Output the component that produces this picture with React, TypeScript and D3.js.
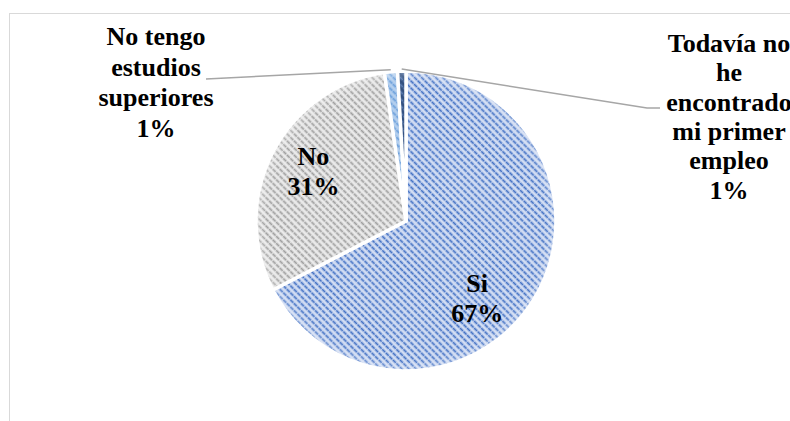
import React from "react";
import * as d3 from "d3";

// ---- data ----
const categories = ["Si", "No", "No tengo estudios superiores", "Todavía no he encontrado mi primer empleo"];
const values = [67.4, 30.3, 1.4, 0.9];
const percentLabels = ["67%", "31%", "1%", "1%"];
const labelLines = [
  ["Si"],
  ["No"],
  ["No tengo", "estudios", "superiores"],
  ["Todavía no", "he", "encontrado", "mi primer", "empleo"],
];

// ---- layout / style ----
const W = 790;
const H = 421;
const CX = 406;
const CY = 221;
const R = 150;
const FONT = "Liberation Serif, Times New Roman, DejaVu Serif, serif";
const FS = 26;

const fills = [
  { bg: "#d2ddf3", fg: "#4472c4" },
  { bg: "#eaeaea", fg: "#9f9f9f" },
  { bg: "#b4cfee", fg: "#6b9fdb" },
  { bg: "#33507f", fg: "#5f7fb3" },
];

// inside labels: centroid radius and angle shift (degrees)
const insideLabel: Record<number, { r: number; shift: number }> = {
  0: { r: 105, shift: 16 },
  1: { r: 105, shift: 1 },
};
// outside labels: anchor (center x, first baseline), line height, leader path
const outsideLabel: Record<number, { x: number; y: number; lh: number; leader: [number, number][] }> = {
  2: { x: 156, y: 45, lh: 30.5, leader: [[206, 79]] },
  3: { x: 729, y: 52, lh: 29.3, leader: [[647, 108], [660, 108]] },
};

export default function App() {
  const pie = d3
    .pie<number>()
    .sort(null)
    .startAngle(0)
    .endAngle(2 * Math.PI)
    .value((d) => d);
  const arcs = pie(values);
  const arc = d3.arc<d3.PieArcDatum<number>>().innerRadius(0).outerRadius(R);

  const polar = (a: number, r: number): [number, number] => [
    CX + r * Math.sin(a),
    CY - r * Math.cos(a),
  ];

  return (
    <svg
      width={W}
      height={H}
      style={{ position: "absolute", left: 0, top: 0, background: "#fff" }}
    >
      <defs>
        {fills.map((f, i) => (
          <pattern
            key={i}
            id={`pat${i}`}
            patternUnits="userSpaceOnUse"
            width={5}
            height={5}
            patternTransform="rotate(-45)"
          >
            <rect width={5} height={5} fill={f.bg} />
            <line x1={2.5} y1={0} x2={2.5} y2={5} stroke={f.fg} strokeWidth={1.8} strokeDasharray="3.2 0.8" />
          </pattern>
        ))}
        <radialGradient id="soft" cx={CX} cy={CY} r={R} gradientUnits="userSpaceOnUse">
          <stop offset="0.93" stopColor="#fff" stopOpacity={0} />
          <stop offset="1" stopColor="#fff" stopOpacity={0.3} />
        </radialGradient>
      </defs>

      <rect x={9.5} y={13.5} width={900} height={500} fill="#fff" stroke="#d9d9d9" strokeWidth={1} />

      <g transform={`translate(${CX},${CY})`}>
        {arcs.map((a, i) => (
          <path key={i} d={arc(a) || ""} fill={`url(#pat${i})`} stroke="#fff" strokeWidth={3.5} strokeLinejoin="round" />
        ))}
      </g>
      <circle cx={CX} cy={CY} r={R} fill="url(#soft)" />

      {/* leader lines */}
      {arcs.map((a, i) => {
        const o = outsideLabel[i];
        if (!o) return null;
        const mid = (a.startAngle + a.endAngle) / 2;
        const p0 = polar(mid, R + 2);
        const pts: [number, number][] = [p0, ...o.leader];
        return (
          <polyline
            key={"l" + i}
            points={pts.map((p) => p.join(",")).join(" ")}
            fill="none"
            stroke="#a6a6a6"
            strokeWidth={1.5}
          />
        );
      })}

      {/* labels */}
      <g style={{ fontFamily: FONT, fontWeight: "bold", fontSize: FS }} fill="#000" textAnchor="middle">
        {arcs.map((a, i) => {
          const lines = [...labelLines[i], percentLabels[i]];
          const ins = insideLabel[i];
          if (ins) {
            const mid = (a.startAngle + a.endAngle) / 2 + (ins.shift * Math.PI) / 180;
            const [x, y] = polar(mid, ins.r);
            const lh = 30;
            const y0 = y - ((lines.length - 1) * lh) / 2 + 9;
            return (
              <text key={"t" + i}>
                {lines.map((t, k) => (
                  <tspan key={k} x={x} y={y0 + k * lh}>
                    {t}
                  </tspan>
                ))}
              </text>
            );
          }
          const o = outsideLabel[i];
          return (
            <text key={"t" + i}>
              {lines.map((t, k) => (
                <tspan key={k} x={o.x} y={o.y + k * o.lh}>
                  {t}
                </tspan>
              ))}
            </text>
          );
        })}
      </g>
    </svg>
  );
}
